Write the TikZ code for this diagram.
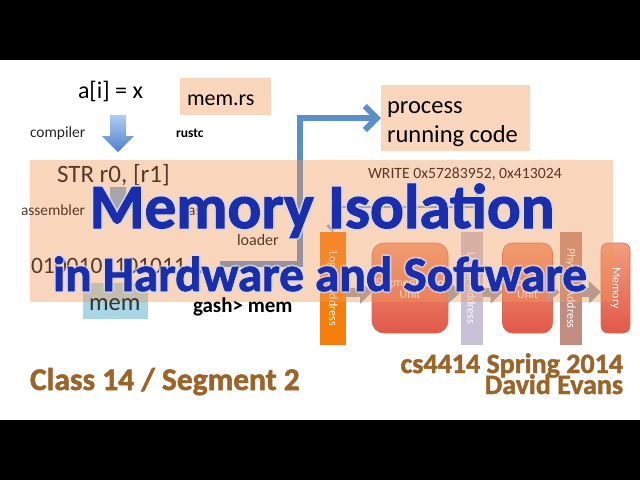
\documentclass[tikz,border=0pt]{standalone}
\usepackage{fontspec}
\setmainfont{Carlito}
\newfontfamily\heavyfont{Carlito}[BoldFeatures={FakeBold=1.6}]
\usetikzlibrary{arrows.meta}
\definecolor{peachA}{RGB}{249,214,188}
\definecolor{peachO}{RGB}{240,152,87}
\definecolor{lblue}{RGB}{168,214,228}
\definecolor{steel}{RGB}{91,143,201}
\definecolor{titleblue}{RGB}{26,46,172}
\definecolor{glowc}{RGB}{215,220,252}
\definecolor{brownt}{RGB}{155,100,40}
\definecolor{darkbr}{RGB}{85,58,40}
\definecolor{orangebar}{RGB}{245,125,12}
\definecolor{lavbar}{RGB}{200,193,215}
\definecolor{physbar}{RGB}{195,140,128}
\definecolor{redtop}{RGB}{242,158,128}
\definecolor{redbot}{RGB}{226,88,72}
\definecolor{redline}{RGB}{214,108,88}
\definecolor{pipegray}{RGB}{150,156,170}
\definecolor{arrtop}{RGB}{175,205,242}
\definecolor{arrbot}{RGB}{78,128,205}
\definecolor{graymark}{RGB}{160,160,168}
\newcommand{\fsz}[1]{\fontsize{#1}{#1}\selectfont}
\begin{document}
\begin{tikzpicture}[x=1pt,y=-1pt,
  every node/.style={inner sep=0pt, outer sep=0pt},
  txt/.style={anchor=base west},
  peachbox/.style={fill=peachA, anchor=north west},
  barbox/.style={minimum width=22pt, minimum height=113pt, text=white, font=\fsz{12}},
  unitbox/.style={top color=redtop, bottom color=redbot, draw=redline, line width=0.6pt,
     minimum height=90pt, text=white, font=\fsz{12}, align=center},
  pipe/.style={pipegray, line width=9pt, -{Triangle[length=12pt,width=22pt]}},
  titleA/.style={anchor=base, font=\heavyfont\bfseries\fsz{63}},
  titleB/.style={anchor=base, font=\heavyfont\bfseries\fsz{49.3}},
  brownfont/.style={font=\heavyfont\bfseries\fsz{#1}, text=brownt}
]
\useasboundingbox (0,0) rectangle (640,480);
\fill[black] (0,0) rectangle (640,480);
\fill[white] (0,60) rectangle (640,420);

% top texts
\node[txt, font=\fsz{24}] (ai) at (78,98) {a[i] = x};
\node[peachbox, minimum width=91pt, minimum height=37pt] (memrs) at (180,78) {};
\node[txt, font=\fsz{22}] (memrstxt) at (187,105) {mem.rs};
\shade[top color=arrtop, bottom color=arrbot]
  (110,115) -- (126,115) -- (126,136) -- (134,136) -- (118,152) -- (102,136) -- (110,136) -- cycle;
\node[txt, font=\fsz{15.5}, text=black!85] (compiler) at (30,137) {compiler};
\node[txt, font=\bfseries\fsz{13.5}] (rustc) at (176,137) {rustc};

% process box and loader arrow
\node[peachbox, minimum width=149pt, minimum height=66pt] (proc) at (381,85) {};
\node[txt, font=\fsz{24.5}] (proc1) at (387,113) {process};
\node[txt, font=\fsz{24.5}] (proc2) at (387,142) {running code};
\coordinate (ldstart) at (220,264);
\coordinate (ldturn) at (300,118);
\draw[steel, line width=6pt, -{Straight Barb[length=12pt,width=24pt]}]
  (ldstart) -| (ldturn) -- (proc.west);

% mem box
\node[fill=lblue, anchor=north west, minimum width=65pt, minimum height=36pt] (membox) at (83,283) {};

% hardware pipeline
\node[barbox, fill=orangebar, minimum width=26pt] (la) at (332.5,288.5) {\rotatebox{-90}{Logical Address}};
\node[unitbox, minimum width=76pt, rounded corners=12pt] (seg) at (410,288) {Segmentation\\Unit};
\node[barbox, fill=lavbar] (lin) at (471.5,288.5) {\rotatebox{-90}{Linear Address}};
\node[unitbox, minimum width=50pt, rounded corners=10pt] (pag) at (527.5,288) {Paging\\Unit};
\node[barbox, fill=physbar] (phys) at (570.5,288.5) {\rotatebox{-90}{Physical Address}};
\node[unitbox, minimum width=29pt, rounded corners=7pt] (memu) at (615.5,288) {\rotatebox{-90}{Memory}};
\draw[pipe] ([yshift=-4pt]la.east) -- ([yshift=-4pt]seg.west);
\draw[pipe] ([yshift=-4pt]seg.east) -- ([yshift=-4pt]lin.west);
\draw[pipe] ([yshift=-4pt]lin.east) -- ([yshift=-4pt]pag.west);
\draw[pipe] ([yshift=-4pt]pag.east) -- ([yshift=-4pt]phys.west);
\draw[pipe] ([yshift=-4pt]phys.east) -- ([yshift=-4pt]memu.west);

% translucent panel
\fill[peachO, opacity=0.4] (30,160) rectangle (613,302);

% panel texts
\node[txt, font=\fsz{25}, text=darkbr] (str) at (57,182) {STR r0, [r1]};
\node[txt, font=\fsz{15.7}, text=darkbr] (write) at (368,178) {WRITE 0x57283952, 0x413024};
\node[txt, font=\fsz{15.4}, text=darkbr] (asm) at (21,215) {assembler};
\node[txt, font=\fsz{15.4}, text=darkbr] (as) at (188,215) {as};
\node[txt, font=\fsz{16}, text=darkbr] (loader) at (237,245) {loader};
\node[txt, font=\fsz{23.5}, text=darkbr] (bits) at (31,273) {0100101101011...};
\node[txt, font=\fsz{24.5}, text=black!80] (memtxt) at (89,310) {mem};
\node[txt, font=\bfseries\fsz{21}] (gash) at (193,312) {gash> mem};
\fill[graymark, opacity=0.9]
  (110,187) -- (126,187) -- (126,204) -- (134,204) -- (118,220) -- (102,204) -- (110,204) -- cycle;
\coordinate (wr1) at (477,188);
\draw[graymark, line width=2.5pt, -{Straight Barb[length=5pt,width=10pt]}]
  (wr1) -- (477,207) -- (332.5,207) -- (la.north);

% title with glow
\foreach \a in {0,45,...,315} {
  \node[titleA, text=glowc, opacity=0.3] at ({322+2*cos(\a)},{228+2*sin(\a)}) {Memory Isolation};
  \node[titleB, text=glowc, opacity=0.3] at ({320+2*cos(\a)},{291+2*sin(\a)}) {in Hardware and Software};
}
\node[titleA, text=titleblue] (t1) at (322,228) {Memory Isolation};
\node[titleB, text=titleblue] (t2) at (320,291) {in Hardware and Software};

% bottom texts
\node[txt, brownfont=31.5] (cls) at (30,390) {Class 14 / Segment 2};
\node[anchor=base east, brownfont=28] (course) at (623,373) {cs4414 Spring 2014};
\node[anchor=base east, brownfont=28] (author) at (623,394) {David Evans};
\end{tikzpicture}
\end{document}
